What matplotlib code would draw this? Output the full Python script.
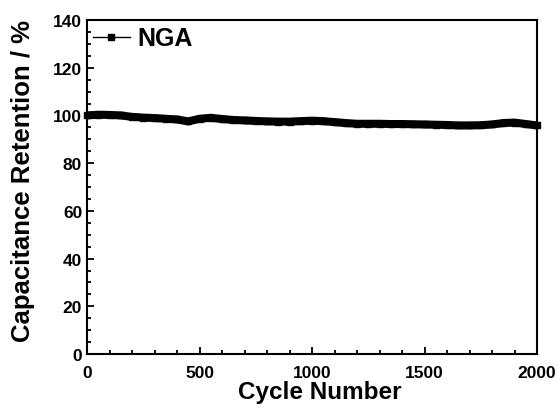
import matplotlib
matplotlib.use("Agg")
import matplotlib.pyplot as plt
from matplotlib.ticker import MultipleLocator

# capacitance retention, every 50 cycles
cycles = [0, 50, 100, 150, 200, 250, 300, 350, 400, 450,
          500, 550, 600, 650, 700, 750, 800, 850, 900, 950,
          1000, 1050, 1100, 1150, 1200, 1250, 1300, 1350, 1400, 1450,
          1500, 1550, 1600, 1650, 1700, 1750, 1800, 1850, 1900, 1950, 2000]
retention = [100.0, 100.3, 100.2, 100.0, 99.4, 99.1, 98.9, 98.6, 98.3, 97.5,
             98.6, 99.0, 98.5, 98.1, 97.9, 97.7, 97.5, 97.4, 97.4, 97.6,
             97.8, 97.6, 97.2, 96.8, 96.5, 96.5, 96.5, 96.4, 96.4, 96.3,
             96.2, 96.1, 96.0, 95.8, 95.8, 95.9, 96.2, 96.8, 97.0, 96.4, 95.8]

plt.rcParams['font.family'] = ['Liberation Sans', 'DejaVu Sans']
plt.rcParams['font.weight'] = 'bold'

fig = plt.figure(figsize=(5.58, 4.10), dpi=100)
ax = fig.add_axes([87 / 558, 55 / 410, 450 / 558, 334 / 410])

# thick black trace; the square markers sit inside the line
ax.plot(cycles, retention, color='black', lw=5.8, solid_capstyle='butt',
        solid_joinstyle='round', marker='s', markersize=4.5, clip_on=False)

# legend handle drawn separately so it stays thin like the original
h, = ax.plot([], [], color='black', lw=1, marker='s', markersize=4)
leg = ax.legend([h], ['NGA'], loc='upper left', frameon=False,
                prop={'weight': 'bold', 'size': 18}, handlelength=1.45,
                handletextpad=0.3, borderaxespad=0.15, borderpad=0.1)

ax.set_xlim(0, 2000)
ax.set_ylim(0, 140)
ax.xaxis.set_major_locator(MultipleLocator(500))
ax.xaxis.set_minor_locator(MultipleLocator(100))
ax.yaxis.set_major_locator(MultipleLocator(20))
ax.yaxis.set_minor_locator(MultipleLocator(5))
ax.tick_params(which='both', direction='in', top=False, right=False,
               width=1.3, labelsize=12.5)
ax.tick_params(which='major', length=5)
ax.tick_params(which='minor', length=3)
ax.tick_params(axis='x', which='major', pad=8)
for lab in ax.get_xticklabels() + ax.get_yticklabels():
    lab.set_fontweight('bold')
for s in ax.spines.values():
    s.set_linewidth(1.5)

ax.set_xlabel('Cycle Number', fontsize=17.5, fontweight='bold')
ax.set_ylabel('Capacitance Retention / %', fontsize=18.5, fontweight='bold')
ax.xaxis.set_label_coords(0.518, -0.078)
ax.yaxis.set_label_coords(-0.116, 0.52)

fig.savefig('out.png', dpi=100)
